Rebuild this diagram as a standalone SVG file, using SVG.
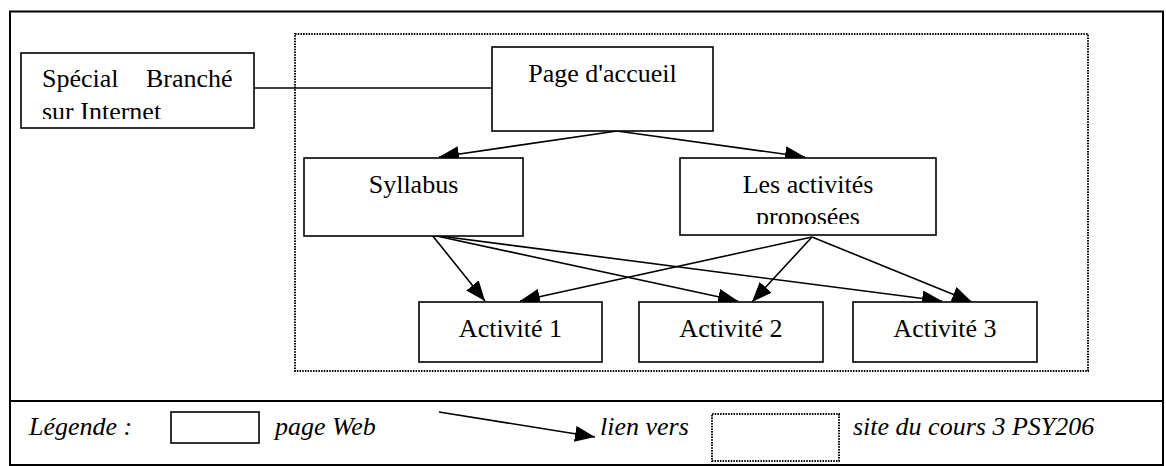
<svg xmlns="http://www.w3.org/2000/svg" width="1166" height="466" viewBox="0 0 1166 466">
  <style>
    .frame { fill: none; stroke: #000; stroke-width: 2; }
    .box { fill: #fff; stroke: #000; stroke-width: 1.6; }
    .dotted { fill: none; stroke: #000; stroke-width: 2; stroke-dasharray: 1.5 1.2; }
    .link { fill: none; stroke: #000; stroke-width: 1.6; }
    .arrow { fill: none; stroke: #000; stroke-width: 1.6; marker-end: url(#head); }
    .label { font-family: "Liberation Serif", "Times New Roman", serif; font-size: 26px; fill: #000; }
    .legend { font-family: "Liberation Serif", "Times New Roman", serif; font-size: 26px; font-style: italic; fill: #000; }
  </style>
  <defs>
    <marker id="head" markerUnits="userSpaceOnUse" markerWidth="20" markerHeight="16" refX="20" refY="8" orient="auto">
      <path d="M0,0 L20,8 L0,16 z" fill="#000"/>
    </marker>
    <clipPath id="clipSpecial"><rect x="21" y="53" width="233" height="66"/></clipPath>
    <clipPath id="clipActivites"><rect x="680" y="158" width="256" height="66"/></clipPath>
  </defs>

  <!-- outer frame and legend separator -->
  <rect class="frame" x="10" y="11.5" width="1153" height="453.5"/>
  <line class="frame" x1="10" y1="401" x2="1163" y2="401"/>

  <!-- course site boundary -->
  <rect class="dotted" x="295" y="34" width="793" height="337"/>

  <!-- connectors -->
  <g id="connectors">
    <line class="link" x1="254" y1="88" x2="492" y2="88"/>
    <line class="arrow" x1="617" y1="131" x2="439" y2="157"/>
    <line class="arrow" x1="617" y1="131" x2="805" y2="157"/>
    <line class="arrow" x1="432" y1="235" x2="485" y2="301"/>
    <line class="arrow" x1="432" y1="235" x2="738" y2="301"/>
    <line class="arrow" x1="432" y1="235" x2="942" y2="301"/>
    <line class="arrow" x1="812" y1="237" x2="520" y2="301"/>
    <line class="arrow" x1="812" y1="237" x2="752" y2="302"/>
    <line class="arrow" x1="812" y1="237" x2="972" y2="302"/>
  </g>

  <g id="special">
    <rect class="box" x="21" y="53" width="233" height="75"/>
    <g clip-path="url(#clipSpecial)">
      <text class="label" y="87"><tspan x="42">Spécial</tspan><tspan x="146">Branché</tspan></text>
      <text class="label" x="42" y="120">sur Internet</text>
    </g>
  </g>

  <g id="accueil">
    <rect class="box" x="492" y="47" width="221" height="84"/>
    <text class="label" x="602.5" y="82" text-anchor="middle">Page d'accueil</text>
  </g>

  <g id="syllabus">
    <rect class="box" x="304" y="158" width="219" height="78"/>
    <text class="label" x="413.5" y="193" text-anchor="middle">Syllabus</text>
  </g>

  <g id="activites">
    <rect class="box" x="680" y="158" width="256" height="77"/>
    <g clip-path="url(#clipActivites)">
      <text class="label" x="808" y="193" text-anchor="middle">Les activités</text>
      <text class="label" x="808" y="225" text-anchor="middle">proposées</text>
    </g>
  </g>

  <g id="activite1">
    <rect class="box" x="419" y="302" width="183" height="60"/>
    <text class="label" x="510.5" y="337" text-anchor="middle">Activité 1</text>
  </g>

  <g id="activite2">
    <rect class="box" x="639" y="302" width="184" height="60"/>
    <text class="label" x="731" y="337" text-anchor="middle">Activité 2</text>
  </g>

  <g id="activite3">
    <rect class="box" x="853" y="302" width="184" height="60"/>
    <text class="label" x="945" y="337" text-anchor="middle">Activité 3</text>
  </g>

  <!-- legend -->
  <g id="legend">
    <text class="legend" x="29" y="435">Légende :</text>
    <rect class="box" x="171" y="412" width="88" height="31"/>
    <text class="legend" x="275" y="435">page Web</text>
    <line class="arrow" x1="439" y1="412" x2="595" y2="437"/>
    <text class="legend" x="600" y="435">lien vers</text>
    <rect class="dotted" x="712" y="414" width="127" height="47"/>
    <text class="legend" x="853" y="435">site du cours 3 PSY206</text>
  </g>
</svg>
